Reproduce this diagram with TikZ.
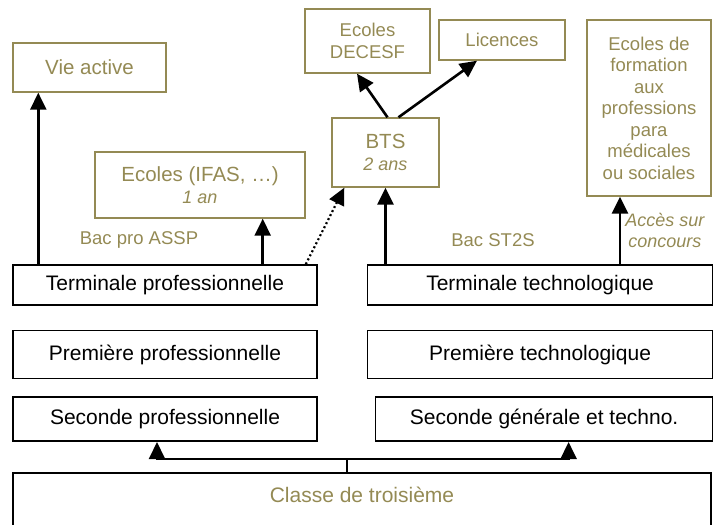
\documentclass[tikz,border=0pt]{standalone}
\usepackage{fontspec}
\setmainfont{Liberation Sans}
\usetikzlibrary{arrows.meta, positioning}
\definecolor{olive}{HTML}{948A54}

\begin{document}
\begin{tikzpicture}[x=1pt, y=-1pt, inner sep=0pt]
        \tikzstyle{every node}=[align=center]
        \tikzstyle{ebox}=[draw=olive, line width=1.4pt, text=olive, font=\fontsize{18.5}{21.5}\selectfont]
        \tikzstyle{big}=[font=\fontsize{20.5}{22}\selectfont]
        \tikzstyle{nbox}=[draw=black, line width=1.6pt, text=black, font=\fontsize{21}{24}\selectfont, minimum width=304, minimum height=40]
        \tikzstyle{lbl}=[text=olive, font=\fontsize{18.5}{21.5}\selectfont]
        \tikzstyle{sub}=[font=\fontsize{18}{21.5}\selectfont\itshape]
        \tikzstyle{arr}=[draw, line width=2.6pt, -{Triangle[length=17pt,width=16pt]}]
        \tikzstyle{every edge}=[arr]
        \useasboundingbox (0,0) rectangle (713,525);
        \clip (0,0) rectangle (713,525);
        % upper boxes
        \node[ebox, big, minimum width=153, minimum height=49]  (vie)    at (89.5,67.5)  {Vie active};
        \node[ebox, big, minimum width=210, minimum height=66]  (ifas)   at (200,185)    {Ecoles (IFAS, \dots)\\{\fontsize{18}{21.5}\selectfont\itshape 1 an}};
        \node[ebox, minimum width=125, minimum height=64]       (decesf) at (367.5,41)   {Ecoles\\DECESF};
        \node[ebox, minimum width=126, minimum height=40]       (lic)    at (502,40)     {Licences};
        \node[ebox, big, minimum width=107, minimum height=69]  (bts)    at (385.5,152.5) {BTS\\{\fontsize{18}{21.5}\selectfont\itshape 2 ans}};
        \node[ebox, minimum width=124, minimum height=176]      (ecf)    at (649,108)    {Ecoles de\\formation\\aux\\professions\\para\\médicales\\ou sociales};
        % classes
        \node[nbox]                                  (tpro)  at (165,285) {Terminale professionnelle};
        \node[nbox, minimum width=345]               (ttech) [right=49pt of tpro] {Terminale technologique};
        \node[nbox, minimum height=48]               (ppro)  [below=24pt of tpro] {Première professionnelle};
        \node[nbox, minimum width=345, minimum height=48] (ptech) [right=49pt of ppro] {Première technologique};
        \node[nbox, minimum height=44]               (spro)  [below=17pt of ppro] {Seconde professionnelle};
        \node[nbox, minimum width=337, minimum height=44] (sgen) [below=17pt of ptech.south east, anchor=north east] {Seconde générale et techno.};
        \node[nbox, text=olive, minimum width=698, anchor=north, text depth=40pt, inner ysep=14pt] (tro) at (362,472) {Classe de troisième};
        \node[lbl] (bpro) at (139,240) {Bac pro ASSP};
        \node[lbl] (bst)  at (493,240) {Bac ST2S};
        % arrows
        \coordinate (bvie)  at ([xshift=26]vie.south west);
        \coordinate (bifas) at ([xshift=-43]ifas.south east);
        \coordinate (becf)  at ([xshift=-29]ecf.south);
        \coordinate (fork)  at ([xshift=-15,yshift=13]tro.north);
        \path
        (tpro.north -| bvie) edge (bvie)
        (tpro.north -| bifas) edge (bifas)
        ([xshift=-12]tpro.north east) edge[line width=2.2pt, dash pattern=on 2pt off 2.5pt] ([xshift=13]bts.south west)
        (ttech.north -| bts.south) edge (bts.south)
        (ttech.north -| becf) edge node[right, lbl, sub, xshift=4pt] {Accès sur\\concours} (becf)
        ([xshift=2]bts.north) edge ([xshift=-10.5]decesf.south)
        ([xshift=13]bts.north) edge ([xshift=-25]lic.south);
        \draw[line width=2pt] ([xshift=-15]tro.north) -- (fork);
        \draw[arr, line width=2pt] (fork) -| ([xshift=-8]spro.south);
        \draw[arr, line width=2pt] (fork) -| ([xshift=24.5]sgen.south);
      \end{tikzpicture}
\end{document}
